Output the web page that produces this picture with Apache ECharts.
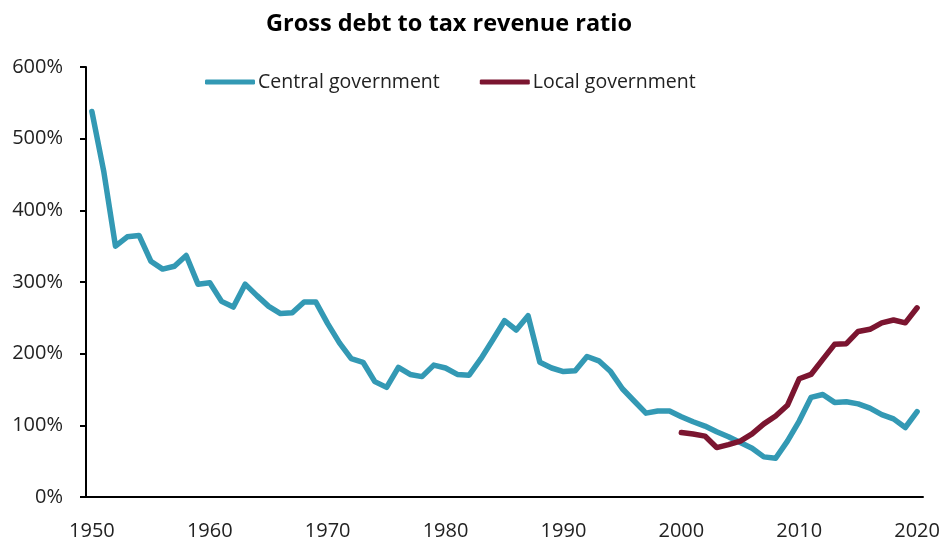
<!DOCTYPE html>
<html>
<head>
<meta charset="utf-8">
<script src="https://cdn.jsdelivr.net/npm/echarts@6/dist/echarts.min.js"></script>
<style>
  html, body { margin: 0; padding: 0; background: #fff; }
  #chart { width: 943px; height: 541px; }
</style>
</head>
<body>
<div id="chart"></div>
<script>
// Years 1950–2020 on a category axis
const years = [];
for (let y = 1950; y <= 2020; y++) years.push(String(y));

// Central government gross debt / tax revenue (%), 1950–2020
const centralGov = [
  538, 455, 350, 363, 365, 329, 318, 322, 337, 297,
  299, 273, 265, 297, 281, 266, 256, 257, 272, 272,
  242, 215, 193, 188, 161, 153, 181, 171, 168, 184,
  180, 171, 170, 193, 219, 246, 233, 253, 188, 180,
  175, 176, 196, 190, 175, 151, 134, 117, 120, 120,
  112, 105, 99, 91, 84, 76, 68, 56, 54, 78,
  106, 139, 143, 132, 133, 130, 124, 115, 109, 97,
  119
];

// Local government gross debt / tax revenue (%), 2000–2020 (blank before 2000)
const localGovValues = [
  90, 88, 85, 69, 73, 78, 88, 102, 113, 128,
  165, 171, 192, 213, 214, 231, 234, 243, 247, 243,
  264
];
const localGov = years.map((y, i) => (i < 50 ? null : localGovValues[i - 50]));

const yTicks = [0, 100, 200, 300, 400, 500, 600];

const FONT = '"Open Sans", "Noto Sans", sans-serif';
const BLUE = '#3399b4';
const MAROON = '#7b1530';

const chart = echarts.init(document.getElementById('chart'));
chart.setOption({
  animation: false,
  textStyle: { fontFamily: FONT },
  title: {
    text: 'Gross debt to tax revenue ratio',
    left: 444,
    textAlign: 'center',
    top: 7,
    textStyle: { fontFamily: FONT, fontWeight: 'bold', fontSize: 23.5, color: '#000' }
  },
  legend: {
    top: 67,
    left: 200,
    icon: 'roundRect',
    itemWidth: 50,
    itemHeight: 5,
    itemGap: 40,
    textStyle: { fontFamily: FONT, fontSize: 19.5, color: '#222', padding: [0, 0, 0, -2] },
    data: [
      { name: 'Central government', itemStyle: { color: BLUE } },
      { name: 'Local government', itemStyle: { color: MAROON } }
    ]
  },
  grid: { left: 86, right: 20, top: 67, bottom: 43 },
  xAxis: {
    type: 'category',
    data: years,
    boundaryGap: true,
    axisLine: { lineStyle: { color: '#000', width: 2 } },
    axisTick: { interval: 9, length: 6, lineStyle: { color: '#000', width: 2 }, inside: true },
    axisLabel: { interval: 9, fontSize: 20, color: '#222', margin: 24, fontFamily: FONT },
    splitLine: { show: false }
  },
  yAxis: {
    type: 'value',
    min: yTicks[0],
    max: yTicks[yTicks.length - 1],
    interval: 100,
    axisLine: { show: true, lineStyle: { color: '#000', width: 2 } },
    axisTick: { show: true, length: 6, lineStyle: { color: '#000', width: 2 } },
    axisLabel: { fontSize: 20, color: '#222', margin: 23, formatter: '{value}%', fontFamily: FONT },
    splitLine: { show: false }
  },
  series: [
    {
      name: 'Central government',
      type: 'line',
      data: centralGov,
      symbol: 'none',
      lineStyle: { color: BLUE, width: 5.5, cap: 'round', join: 'round' },
      itemStyle: { color: BLUE }
    },
    {
      name: 'Local government',
      type: 'line',
      data: localGov,
      symbol: 'none',
      connectNulls: false,
      lineStyle: { color: MAROON, width: 5.5, cap: 'round', join: 'round' },
      itemStyle: { color: MAROON }
    }
  ]
});
</script>
</body>
</html>
